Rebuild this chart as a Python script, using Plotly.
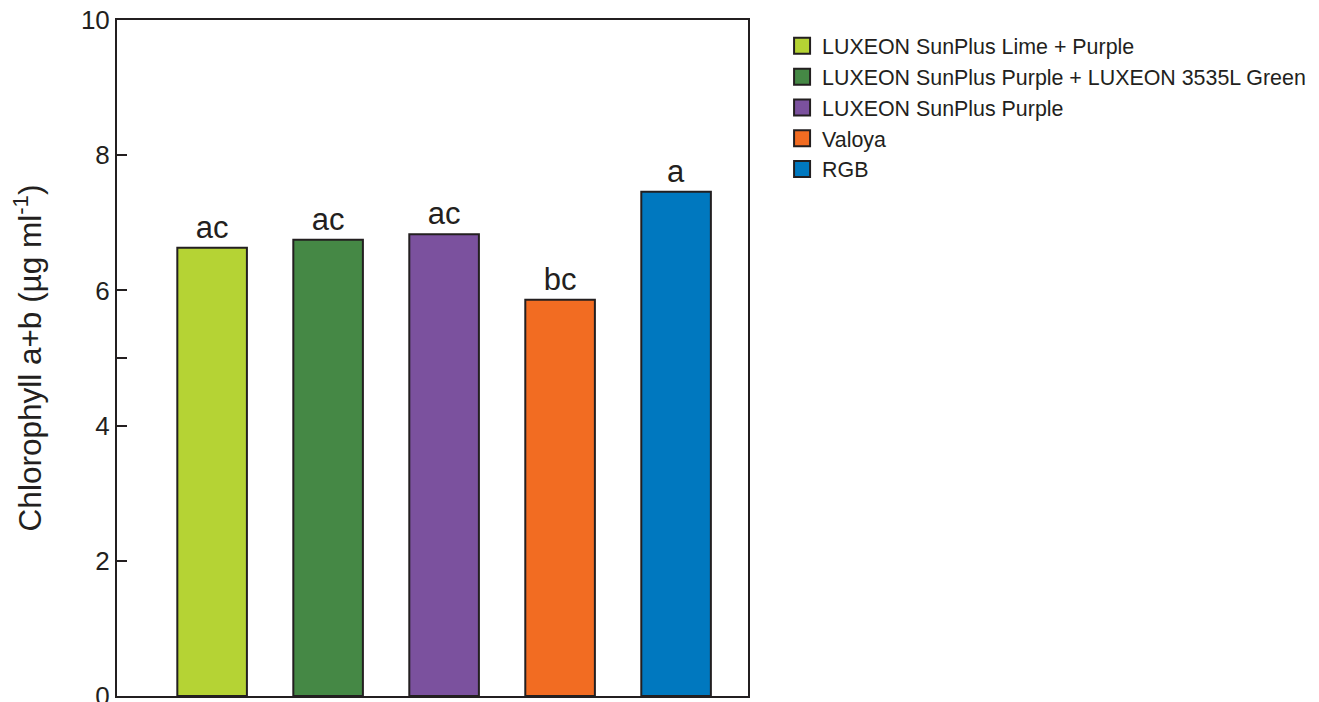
import plotly.graph_objects as go

treatments = [
    "LUXEON SunPlus Lime + Purple",
    "LUXEON SunPlus Purple + LUXEON 3535L Green",
    "LUXEON SunPlus Purple",
    "Valoya",
    "RGB",
]
chlorophyll = [6.63, 6.75, 6.83, 5.86, 7.46]
letters = ["ac", "ac", "ac", "bc", "a"]
colors = ["#B5D334", "#458845", "#7B519E", "#F26C22", "#0078BF"]

y_tickvals = [0, 2, 4, 5, 6, 8, 10]
y_ticktext = ["0", "2", "4", "", "6", "8", "10"]

INK = "#231F20"
FONT = "Liberation Sans, Arial, sans-serif"

fig = go.Figure()
for name, val, lab, col in zip(treatments, chlorophyll, letters, colors):
    fig.add_trace(go.Bar(
        x=[name], y=[val], name=name, showlegend=False,
        text=[lab], textposition="outside",
        textfont=dict(size=31, color=INK, family=FONT),
        marker=dict(color=col, line=dict(color=INK, width=2)),
        width=0.6, cliponaxis=False,
    ))
# legend swatches (larger squares, like the reference)
for name, col in zip(treatments, colors):
    fig.add_trace(go.Scatter(
        x=[None], y=[None], mode="markers", name=name,
        marker=dict(symbol="square", size=22, color=col, line=dict(color=INK, width=2)),
    ))

fig.update_layout(
    width=1311, height=694,
    margin=dict(l=109, r=571, t=12, b=6),
    plot_bgcolor="white", paper_bgcolor="white",
    barmode="overlay",
    font=dict(family=FONT, color=INK),
    legend=dict(
        x=1.054, y=0.992, xanchor="left", yanchor="top",
        font=dict(size=21.4, family=FONT, color=INK),
        tracegroupgap=0,
        bgcolor="rgba(0,0,0,0)",
    ),
    showlegend=True,
)
fig.update_xaxes(
    categoryorder="array", categoryarray=treatments,
    range=[-0.82, 4.62], showticklabels=False, ticks="",
    showline=True, linecolor=INK, linewidth=2, mirror=True,
    showgrid=False, zeroline=False, automargin=False,
)
fig.update_yaxes(
    range=[0, 10], tickvals=y_tickvals, ticktext=y_ticktext,
    ticks="inside", ticklen=10, tickwidth=2, tickcolor=INK,
    tickfont=dict(size=26, color=INK), ticksuffix="\u00a0",
    ticklabeloverflow="allow", automargin=False,
    showline=True, linecolor=INK, linewidth=2, mirror=True,
    showgrid=False, zeroline=False,
    title=dict(text="Chlorophyll a+b (µg ml<sup>-1</sup>)", font=dict(size=31.5, color=INK), standoff=48),
)

fig.write_html("out.html")
